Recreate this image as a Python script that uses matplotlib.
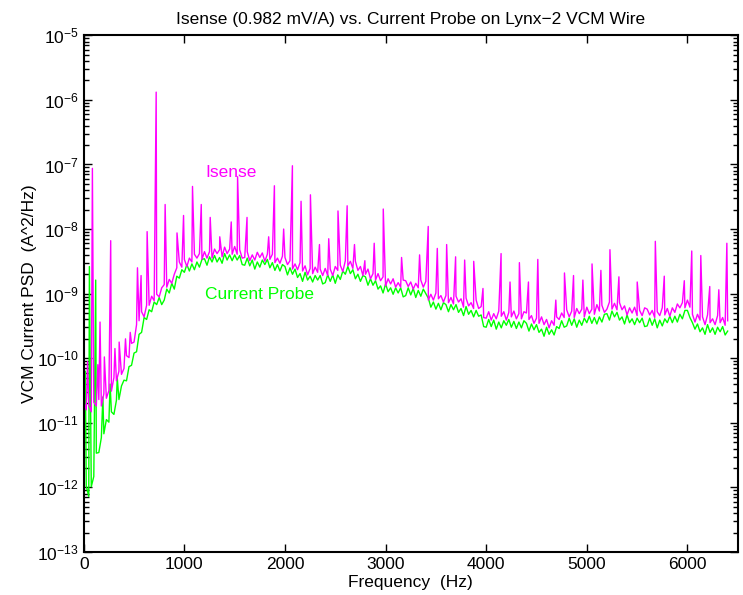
import numpy as np
import matplotlib
matplotlib.use('Agg')
import matplotlib.pyplot as plt
from matplotlib.ticker import LogLocator, NullFormatter, FixedLocator

plt.rcParams['font.family'] = ['Liberation Sans', 'DejaVu Sans']
plt.rcParams['mathtext.fontset'] = 'custom'
plt.rcParams['mathtext.rm'] = 'Liberation Sans'

# PSD, log10(A^2/Hz), one value every 25 Hz from 0 to 6400 Hz
grid_step_hz = 25
isense_log = [
    -10.67, -10.80, -10.72, -10.83, -10.68, -10.74, -10.64, -10.74, -10.55, -10.62, -10.50, -10.51, -10.30, -10.35, -10.20, -10.25,
    -10.16, -9.96, -9.99, -9.77, -9.75, -9.48, -9.42, -9.28, -9.36, -9.18, -9.18, -9.04, -9.11, -9.01, -9.05, -8.91,
    -8.86, -8.90, -8.78, -8.84, -8.70, -8.60, -8.51, -8.59, -8.47, -8.58, -8.45, -8.51, -8.39, -8.45, -8.38, -8.47,
    -8.35, -8.45, -8.35, -8.45, -8.31, -8.38, -8.32, -8.43, -8.28, -8.38, -8.31, -8.39, -8.27, -8.39, -8.32, -8.45,
    -8.44, -8.35, -8.49, -8.40, -8.48, -8.36, -8.44, -8.37, -8.50, -8.39, -8.47, -8.39, -8.52, -8.45, -8.53, -8.42,
    -8.44, -8.55, -8.49, -8.62, -8.54, -8.63, -8.52, -8.65, -8.57, -8.71, -8.61, -8.69, -8.59, -8.67, -8.62, -8.72,
    -8.61, -8.72, -8.62, -8.72, -8.58, -8.64, -8.56, -8.66, -8.49, -8.57, -8.50, -8.61, -8.50, -8.64, -8.58, -8.72,
    -8.70, -8.62, -8.77, -8.69, -8.79, -8.69, -8.80, -8.74, -8.88, -8.77, -8.85, -8.77, -8.90, -8.83, -8.90, -8.79,
    -8.80, -8.89, -8.82, -8.93, -8.84, -8.91, -8.79, -8.90, -8.81, -9.10, -9.01, -9.10, -8.99, -9.08, -9.03, -9.13,
    -9.03, -9.14, -9.06, -9.16, -9.04, -9.13, -9.08, -9.21, -9.07, -9.19, -9.14, -9.23, -9.10, -9.23, -9.20, -9.37,
    -9.38, -9.28, -9.41, -9.31, -9.39, -9.27, -9.35, -9.28, -9.41, -9.29, -9.36, -9.27, -9.39, -9.31, -9.39, -9.28,
    -9.30, -9.40, -9.34, -9.46, -9.38, -9.46, -9.36, -9.48, -9.40, -9.53, -9.42, -9.49, -9.36, -9.40, -9.30, -9.37,
    -9.25, -9.36, -9.27, -9.37, -9.23, -9.31, -9.24, -9.36, -9.21, -9.31, -9.24, -9.32, -9.17, -9.27, -9.18, -9.29,
    -9.24, -9.13, -9.24, -9.15, -9.25, -9.14, -9.25, -9.19, -9.33, -9.22, -9.30, -9.21, -9.34, -9.26, -9.34, -9.22,
    -9.24, -9.33, -9.26, -9.37, -9.28, -9.34, -9.22, -9.33, -9.23, -9.35, -9.22, -9.29, -9.16, -9.22, -9.14, -9.22,
    -9.10, -9.21, -9.32, -9.44, -9.32, -9.41, -9.36, -9.48, -9.33, -9.45, -9.39, -9.48, -9.34, -9.45, -9.37, -9.49,
    -9.42,
]
probe_log = [
    -11.90, -11.98, -12.14, -11.99, -11.83, -11.47, -11.46, -11.23, -11.17, -10.95, -10.99, -10.83, -10.87, -10.65, -10.64, -10.43,
    -10.34, -10.35, -10.13, -10.11, -9.92, -9.90, -9.63, -9.60, -9.37, -9.40, -9.25, -9.28, -9.13, -9.17, -9.06, -9.17,
    -9.10, -8.93, -8.99, -8.84, -8.93, -8.73, -8.76, -8.63, -8.67, -8.55, -8.65, -8.54, -8.63, -8.51, -8.59, -8.47,
    -8.46, -8.56, -8.43, -8.51, -8.41, -8.51, -8.44, -8.53, -8.38, -8.48, -8.40, -8.49, -8.40, -8.48, -8.41, -8.55,
    -8.56, -8.45, -8.57, -8.48, -8.62, -8.51, -8.59, -8.48, -8.55, -8.47, -8.60, -8.52, -8.64, -8.55, -8.65, -8.55,
    -8.58, -8.71, -8.60, -8.70, -8.62, -8.75, -8.69, -8.81, -8.67, -8.79, -8.73, -8.82, -8.72, -8.79, -8.72, -8.85,
    -8.83, -8.71, -8.81, -8.71, -8.84, -8.71, -8.78, -8.65, -8.70, -8.58, -8.69, -8.63, -8.77, -8.70, -8.81, -8.72,
    -8.74, -8.87, -8.77, -8.87, -8.80, -8.93, -8.88, -8.99, -8.85, -8.97, -8.91, -9.01, -8.91, -8.99, -8.91, -9.05,
    -9.03, -8.91, -9.02, -8.92, -9.06, -8.95, -9.04, -8.93, -9.00, -9.07, -9.21, -9.13, -9.24, -9.15, -9.25, -9.14,
    -9.17, -9.28, -9.17, -9.25, -9.17, -9.29, -9.23, -9.34, -9.20, -9.32, -9.26, -9.36, -9.26, -9.35, -9.33, -9.51,
    -9.52, -9.40, -9.51, -9.41, -9.55, -9.44, -9.53, -9.42, -9.49, -9.40, -9.52, -9.43, -9.54, -9.44, -9.53, -9.42,
    -9.46, -9.58, -9.47, -9.56, -9.48, -9.60, -9.55, -9.66, -9.52, -9.63, -9.56, -9.64, -9.51, -9.54, -9.42, -9.52,
    -9.50, -9.38, -9.49, -9.39, -9.52, -9.41, -9.49, -9.38, -9.45, -9.35, -9.46, -9.37, -9.47, -9.36, -9.44, -9.32,
    -9.31, -9.41, -9.27, -9.36, -9.29, -9.41, -9.36, -9.47, -9.33, -9.45, -9.39, -9.48, -9.38, -9.45, -9.38, -9.51,
    -9.50, -9.38, -9.49, -9.39, -9.53, -9.41, -9.50, -9.39, -9.45, -9.35, -9.45, -9.35, -9.44, -9.32, -9.39, -9.26,
    -9.26, -9.37, -9.45, -9.55, -9.47, -9.59, -9.53, -9.63, -9.48, -9.60, -9.53, -9.63, -9.52, -9.59, -9.51, -9.64,
    -9.58,
]

# narrow spectral lines: frequency (Hz) and peak log10(A^2/Hz)
isense_spike_hz = [
    38, 86, 140, 162, 205, 268, 310, 352, 415, 462, 534, 570, 630, 720, 809, 927, 992,
    1081, 1168, 1257, 1352, 1466, 1529, 1623, 1838, 1895, 1987, 2074, 2160, 2253, 2343,
    2435, 2527, 2618, 2691, 2794, 2887, 2977, 3159, 3338, 3424, 3514, 3607, 3696, 3786,
    3876, 3968, 4148, 4237, 4330, 4420, 4513, 4692, 4778, 4868, 4961, 5052, 5140, 5230,
    5319, 5501, 5681, 5770, 5969, 6043, 6133, 6222, 6312, 6392,
]
isense_spike_log = [
    -10.05, -7.06, -10.10, -9.44, -9.98, -8.18, -9.85, -9.75, -9.70, -9.60, -8.60, -8.72, -8.04, -5.88, -7.62, -8.06, -7.79,
    -7.34, -7.62, -7.82, -8.12, -7.89, -7.19, -7.82, -8.12, -7.33, -8.00, -7.02, -7.57, -7.47, -8.24,
    -8.15, -7.72, -7.64, -8.24, -8.49, -8.22, -7.69, -8.44, -8.40, -7.96, -8.30, -8.24, -8.43, -8.48,
    -8.50, -8.92, -8.38, -8.82, -8.52, -8.82, -8.47, -9.10, -8.68, -8.72, -8.79, -8.54, -8.64, -8.32,
    -8.74, -8.82, -8.19, -8.73, -8.80, -8.34, -8.41, -8.89, -8.94, -8.22,
]
probe_spike_hz = [16, 56, 119, 190, 262, 333]
probe_spike_log = [-10.20, -8.58, -8.79, -10.60, -10.40, -10.30]


def build_series(base_log, spike_hz, spike_log):
    grid = np.arange(len(base_log)) * grid_step_hz
    f = np.concatenate([grid, spike_hz])
    v = np.concatenate([base_log, spike_log])
    order = np.argsort(f, kind='stable')
    return f[order], 10.0 ** v[order]


def main():
    fig = plt.figure(figsize=(7.43, 5.95), dpi=100)
    ax = fig.add_axes([0.1127, 0.0723, 0.8802, 0.8684])

    f_p, v_p = build_series(probe_log, probe_spike_hz, probe_spike_log)
    f_i, v_i = build_series(isense_log, isense_spike_hz, isense_spike_log)
    ax.plot(f_p, v_p, color='#00ff00', lw=1.0)
    ax.plot(f_i, v_i, color='#ff00ff', lw=1.0)

    ax.set_yscale('log')
    ax.set_xlim(0, 6500)
    ax.set_ylim(1e-13, 1e-5)
    ax.xaxis.set_major_locator(FixedLocator(np.arange(0, 6001, 1000)))
    ax.yaxis.set_major_locator(LogLocator(base=10, numticks=20))
    ax.yaxis.set_minor_locator(LogLocator(base=10, subs=np.arange(2, 10), numticks=20))
    ax.yaxis.set_minor_formatter(NullFormatter())
    ax.tick_params(which='both', direction='in', top=True, right=True, labelsize=12.5, width=1.0)
    ax.tick_params(which='major', length=6)
    ax.tick_params(which='minor', length=3.5)
    for sp in ax.spines.values():
        sp.set_linewidth(1.5)

    ax.text(1208, 10 ** -7.12, 'Isense', color='#ff00ff', fontsize=12.5, va='center')
    ax.text(1208, 10 ** -9.02, 'Current Probe', color='#00ff00', fontsize=12.5, va='center')

    ax.set_title('Isense (0.982 mV/A) vs. Current Probe on Lynx\u22122 VCM Wire', fontsize=12.5, pad=8)
    ax.set_xlabel('Frequency  (Hz)', fontsize=12.5, labelpad=2)
    ax.set_ylabel('VCM Current PSD  (A^2/Hz)', fontsize=12.5, labelpad=0)

    fig.savefig('out.png', dpi=100)


if __name__ == '__main__':
    main()
